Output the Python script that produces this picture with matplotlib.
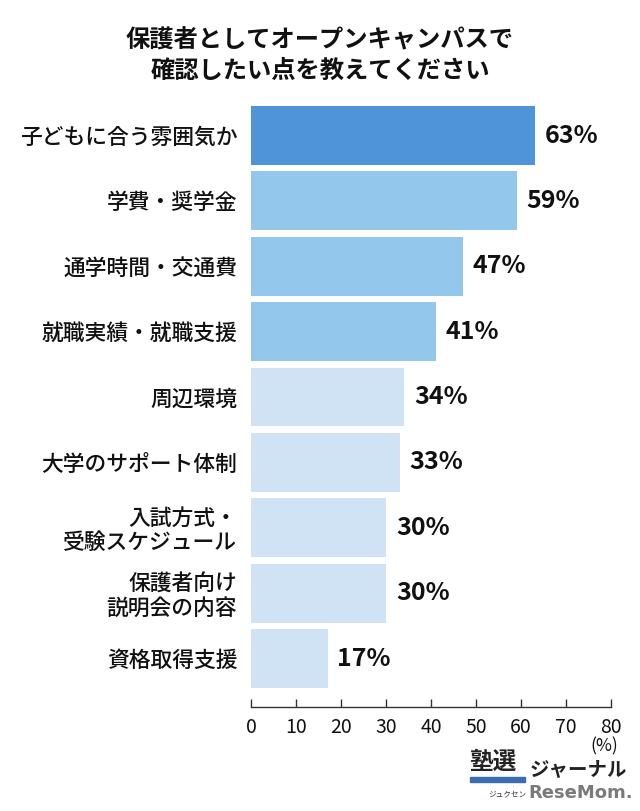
import matplotlib
matplotlib.use("Agg")
import matplotlib.pyplot as plt

plt.rcParams['font.family'] = ['Noto Sans CJK JP', 'DejaVu Sans']

title = "保護者としてオープンキャンパスで\n確認したい点を教えてください"
categories = ["子どもに合う雰囲気か", "学費・奨学金", "通学時間・交通費", "就職実績・就職支援",
              "周辺環境", "大学のサポート体制", "入試方式・\n受験スケジュール", "保護者向け\n説明会の内容",
              "資格取得支援"]
values = [63, 59, 47, 41, 34, 33, 30, 30, 17]
colors = ["#4F94D9", "#93C7EB", "#93C7EB", "#93C7EB", "#CFE3F5", "#CFE3F5", "#CFE3F5", "#CFE3F5", "#CFE3F5"]
xticks = [0, 10, 20, 30, 40, 50, 60, 70, 80]

W, H = 640, 811
fig = plt.figure(figsize=(W / 100, H / 100), dpi=100)
left, right = 251 / W, 611 / W
bottom, top = 1 - 707 / H, 1 - 100 / H
ax = fig.add_axes([left, bottom, right - left, top - bottom])

ypos = list(range(len(categories)))
ax.barh(ypos, values, height=0.9, color=colors, edgecolor='none')
ax.set_xlim(0, 80)
ax.set_ylim(8.74, -0.543)

for y, v in zip(ypos, values):
    ax.text(v + 2.2, y, f"{v}%", ha='left', va='center', fontsize=18, fontweight='bold', color='#111111')

ax.set_yticks(ypos)
ax.set_yticklabels(categories, fontsize=15.7, color='#111111', linespacing=1.1, fontweight='medium')
ax.tick_params(axis='y', length=0, pad=10)
ax.set_xticks(xticks)
ax.set_xticklabels([str(t) for t in xticks], fontsize=14, color='#111111')
ax.tick_params(axis='x', direction='in', length=6, width=1, color='#333333', pad=7)

for s in ['top', 'right', 'left']:
    ax.spines[s].set_visible(False)
ax.spines['bottom'].set_color('#333333')
ax.spines['bottom'].set_linewidth(1)

fig.text(0.5, 1 - 56 / H, title, ha='center', va='center', fontsize=17.5, fontweight='bold',
         color='#111111', linespacing=1.35)
fig.text(604 / W, 1 - 746 / H, "(%)", ha='center', va='center', fontsize=12.5, color='#111111')

# logo-like text
fig.text(469 / W, 1 - 762 / H, "塾選", ha='left', va='center', fontsize=17, fontweight='bold', color='#222222')
fig.add_artist(plt.Rectangle((470 / W, 1 - 782 / H), 55 / W, 5 / H, transform=fig.transFigure,
                             color='#3B6DB0'))
fig.text(488 / W, 1 - 794 / H, "ジュクセン", ha='left', va='center', fontsize=5.5, color='#333333')
fig.text(530 / W, 1 - 770 / H, "ジャーナル", ha='left', va='center', fontsize=14, fontweight='bold', color='#222222')
fig.text(528 / W, 1 - 793 / H, "ReseMom.", ha='left', va='center', fontsize=13, fontweight='bold', color='#7a7a7a',
         family=['DejaVu Sans'])

fig.savefig("out.png", dpi=100, facecolor='white')
